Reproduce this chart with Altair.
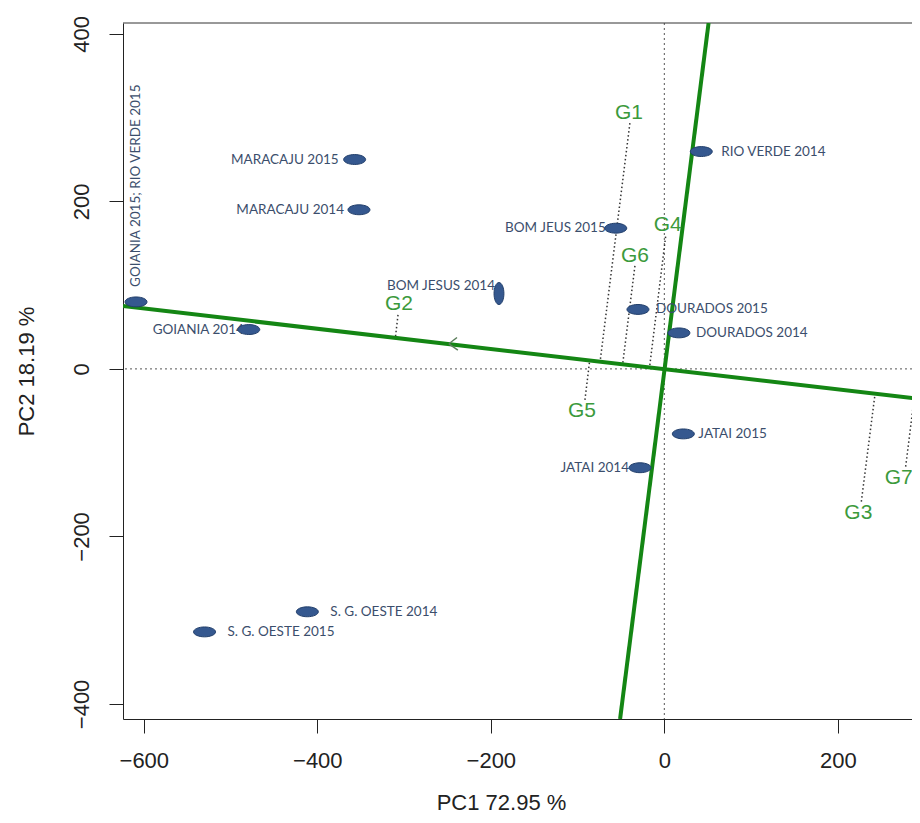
import altair as alt
import pandas as pd

# ---- data ----
env_names = ["GOIANIA 2015; RIO VERDE 2015", "GOIANIA 2014", "MARACAJU 2015", "MARACAJU 2014",
             "BOM JESUS 2014", "BOM JEUS 2015", "RIO VERDE 2014", "DOURADOS 2015",
             "DOURADOS 2014", "JATAI 2015", "JATAI 2014", "S. G. OESTE 2014", "S. G. OESTE 2015"]
env_x = [-609, -479, -357, -352, -190.6, -56, 42.6, -30.4, 16.8, 21.9, -28, -411.5, -530]
env_y = [80, 47, 250, 190, 90, 168, 259.5, 71, 43, -77.6, -118, -290, -314]
env_marker_angle = [0, 0, 0, 0, 90, 0, 0, 0, 0, 0, 0, 0, 0]
# label placement (offsets in pixels)
env_label_dx = [15, -5, -16, -15, -4, -10, 20, 18, 17, 15, -11, 23, 23]
env_label_dy = [0, 0, 0, 0, -8, 0, 0, 0, 0, 0, 0, 0, 0]
env_label_align = ["left", "right", "right", "right", "right", "right", "left", "left",
                   "left", "left", "right", "left", "left"]
env_label_angle = [270, 0, 0, 0, 0, 0, 0, 0, 0, 0, 0, 0, 0]

gen_names = ["G1", "G2", "G3", "G4", "G5", "G6", "G7"]
gen_x = [-39.7, -307, 227.1, 1.5, -91.5, -33.9, 278.2]
gen_y = [293.4, 64.5, -158.4, 158, -37, 123, -116.7]
gen_proj_x = [-74, -310, 243, -17, -86, -48, 288]
gen_proj_y = [9, 37.5, -29, 2, 10.4, 5.8, -35]
gen_label_dx = [-1, 1, -3, 2, -3, 0, -7]
gen_label_dy = [-10, -11, 11, -12, 11, -10, 11]

axis_x1 = [-624, -51]
axis_y1 = [75, -418]
axis_x2 = [295, 51]
axis_y2 = [-36, 413]

arrow_x1 = [-248.3, -248.3]
arrow_y1 = [30, 30]
arrow_x2 = [-239, -238]
arrow_y2 = [37.5, 22.5]

x_ticks = [-600, -400, -200, 0, 200]
y_ticks = [-400, -200, 0, 200, 400]
x_domain = [-624, 285.5]
y_domain = [-418, 413]
zero_value = [0]

W, H = 789, 696

env = pd.DataFrame({"name": env_names, "x": env_x, "y": env_y, "ang": env_marker_angle})
gen = pd.DataFrame({"name": gen_names, "x": gen_x, "y": gen_y,
                    "px": gen_proj_x, "py": gen_proj_y})
axes_df = pd.DataFrame({"x": axis_x1, "y": axis_y1, "x2": axis_x2, "y2": axis_y2})
arrow_df = pd.DataFrame({"x": arrow_x1, "y": arrow_y1, "x2": arrow_x2, "y2": arrow_y2})
zero_df = pd.DataFrame({"x": zero_value, "y": zero_value})

FONT = "Liberation Sans"

xs = alt.Scale(domain=x_domain, nice=False, zero=False)
ys = alt.Scale(domain=y_domain, nice=False, zero=False)

x_axis = alt.Axis(
    values=x_ticks, title="PC1 72.95 %", grid=False, tickSize=14, labelPadding=17,
    labelFontSize=22, labelFont=FONT, labelColor="#222222", titleFont=FONT,
    titleFontSize=22, titleFontWeight="normal", titleColor="#222222",
    titleX=378, titleY=90, titleBaseline="alphabetic", titleAlign="center",
    domainColor="#222222", tickColor="#222222", format="d")
y_axis = alt.Axis(
    values=y_ticks, title="PC2 18.19 %", grid=False, tickSize=14, labelPadding=16,
    labelFontSize=22, labelFont=FONT, labelColor="#222222", labelAngle=270,
    labelAlign="center", labelBaseline="bottom", titleFont=FONT, titleFontSize=22,
    titleFontWeight="normal", titleColor="#222222", titleX=-90, titleY=H / 2,
    titleBaseline="alphabetic", titleAlign="center", titleAngle=270,
    domainColor="#222222", tickColor="#222222", format="d")

X = alt.X("x:Q", scale=xs, axis=x_axis)
Y = alt.Y("y:Q", scale=ys, axis=y_axis)

# zero reference lines
zero_v = alt.Chart(zero_df).mark_rule(color="#555555", strokeDash=[2, 3], strokeWidth=1).encode(
    x=X)
zero_h = alt.Chart(zero_df).mark_rule(color="#555555", strokeDash=[2, 3], strokeWidth=1).encode(
    y=Y)

# top border of the box
top_border = alt.Chart(zero_df).mark_rule(color="#333333", strokeWidth=1).encode(
    x=alt.value(0), x2=alt.value(W), y=alt.value(0))

# genotype projection lines
proj = alt.Chart(gen).mark_rule(color="#333333", strokeDash=[1.5, 2.5], strokeWidth=1.5,
                                clip=True).encode(
    x=X, y=Y, x2="px:Q", y2="py:Q")

# green AEC axes
green_axes = alt.Chart(axes_df).mark_rule(color="#148614", strokeWidth=4, clip=True).encode(
    x=X, y=Y, x2="x2:Q", y2="y2:Q")

arrow = alt.Chart(arrow_df).mark_rule(color="#5a7d5a", strokeWidth=1.5).encode(
    x=X, y=Y, x2="x2:Q", y2="y2:Q")

layers = [zero_v, zero_h, top_border, proj, green_axes, arrow]

# environment labels
for i, nm in enumerate(env_names):
    sub = env[env["name"] == nm]
    layers.append(
        alt.Chart(sub).mark_text(
            font="Lato", fontSize=13.5, color="#3b4e6c", align=env_label_align[i],
            baseline="middle", dx=env_label_dx[i], dy=env_label_dy[i],
            angle=env_label_angle[i]).encode(x=X, y=Y, text="name:N"))

# genotype labels
for i, nm in enumerate(gen_names):
    layers.append(
        alt.Chart(gen[gen["name"] == nm]).mark_text(
            font=FONT, fontSize=21, color="#3c9a3c", align="center",
            baseline="middle", dx=gen_label_dx[i], dy=gen_label_dy[i]).encode(
            x=X, y=Y, text="name:N"))

# environment markers (ellipses)
ellipse = "M -1 0 A 1 0.45 0 1 1 1 0 A 1 0.45 0 1 1 -1 0 Z"
markers = alt.Chart(env).mark_point(
    shape=ellipse, size=484, filled=True, fill="#35588f", stroke="#223f6b",
    strokeWidth=1, opacity=1).encode(
    x=X, y=Y, angle=alt.Angle("ang:Q", scale=None))
layers.append(markers)

chart = alt.layer(*layers).properties(
    width=W, height=H,
    padding={"left": 115, "top": 15, "right": 0, "bottom": 96},
    autosize=alt.AutoSizeParams(type="none"),
    background="white",
).configure_view(stroke=None)

chart.save("out.html", embed_options={"renderer": "svg", "actions": False})
